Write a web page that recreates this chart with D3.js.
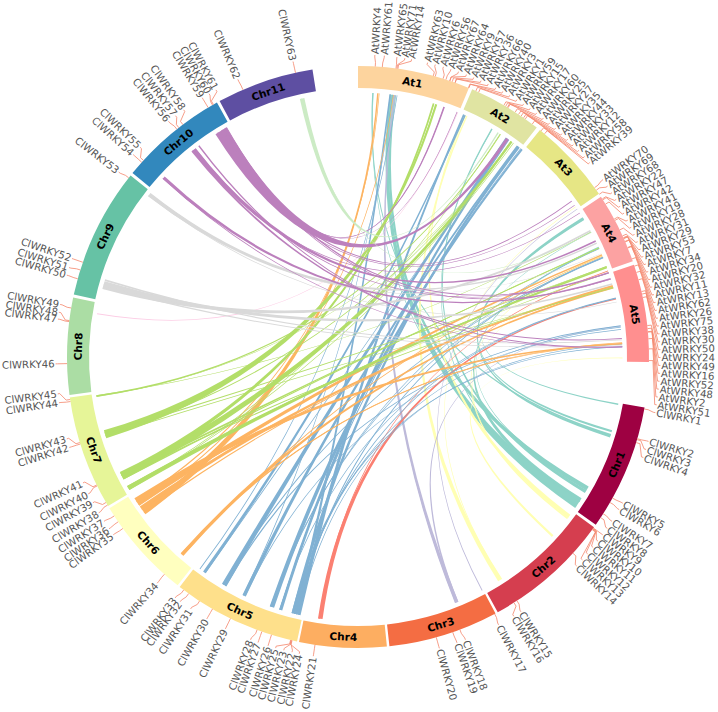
<!DOCTYPE html>
<html><head><meta charset="utf-8">
<script src="https://cdn.jsdelivr.net/npm/d3@7/dist/d3.min.js"></script>
<style>html,body{margin:0;padding:0;background:#fff}svg{display:block}</style>
</head><body><svg id="c" width="718" height="712"></svg>
<script>
// All positions are along the circular genome axis (0-360 units, clockwise from the top).
const sectorNames = ["At1","At2","At3","At4","At5","Chr1","Chr2","Chr3","Chr4","Chr5","Chr6","Chr7","Chr8","Chr9","Chr10","Chr11"];
const sectorStarts = [0,23.1,38.7,56.6,71.5,100,125.8,151.8,174.3,192.1,218.3,239.2,262.5,282.4,309.2,331.6];
const sectorEnds   = [22.4,37.9,55.9,70.8,91,125.2,151.3,173.8,191.7,217.8,238.7,262,281.8,308.6,331,351];
const atColors = ["#fdd49e","#e0e4a2","#e6e685","#fca2a2","#ff8f8f"];
const chrColors = d3.schemeSpectral[11];
const linkColors = d3.schemeSet3;

const atNames = ["AtWRKY4","AtWRKY61","AtWRKY65","AtWRKY71","AtWRKY14","AtWRKY63","AtWRKY10","AtWRKY6","AtWRKY56","AtWRKY67","AtWRKY64","AtWRKY9","AtWRKY57","AtWRKY36","AtWRKY66","AtWRKY40","AtWRKY3","AtWRKY1","AtWRKY59","AtWRKY15","AtWRKY17","AtWRKY60","AtWRKY25","AtWRKY27","AtWRKY35","AtWRKY44","AtWRKY33","AtWRKY12","AtWRKY58","AtWRKY39","AtWRKY70","AtWRKY69","AtWRKY68","AtWRKY22","AtWRKY47","AtWRKY42","AtWRKY41","AtWRKY19","AtWRKY28","AtWRKY31","AtWRKY29","AtWRKY53","AtWRKY7","AtWRKY34","AtWRKY20","AtWRKY32","AtWRKY11","AtWRKY13","AtWRKY62","AtWRKY26","AtWRKY75","AtWRKY38","AtWRKY30","AtWRKY50","AtWRKY24","AtWRKY49","AtWRKY16","AtWRKY52","AtWRKY48","AtWRKY2","AtWRKY51"];
const atGene = [3.4,4.8,7.5,7.7,7.9,15,15.4,17,17.6,18.4,18.4,18.9,19.5,19.5,22.3,22.4,23.9,24.5,30.1,30.5,30.9,31.05,32.7,33.5,34.1,34.7,35.1,36.8,39,39.9,54.4,55,56,57.1,57.3,58.3,61.7,62,64.1,65.4,65.8,65.9,66,66.6,66.7,67.9,68,70.3,71.8,73.1,74.6,77,77.5,78.2,83.8,84.4,85,85.1,86.4,88.4,90.7];
const atLabel = [3.2,5,7.4,8.9,10.2,13.3,14.8,16.4,17.9,19.4,21,22.5,24,25.5,27.1,28.6,30.1,31.7,33.2,34.7,36.2,37.8,39.3,40.8,42.4,43.9,45.4,46.9,48.5,50,54.1,55.6,57.1,58.6,60.1,61.6,63.1,64.6,66.1,67.6,69.1,70.6,72.1,73.6,75.1,76.6,78.1,79.6,81.1,82.6,84.1,85.6,87.1,88.6,90.1,91.6,93.1,94.6,96.1,97.6,99.1];

const clNames = d3.range(1,64).map(i=>"ClWRKY"+i);
const clGene = [100.3,106.3,106.5,107.1,119,120,122.6,123.5,126,126.1,126.2,126.3,126.4,132.4,146.9,147.6,152,159.5,161,164.4,188.5,193.1,193.2,193.3,193.4,197.3,199.3,200.3,206,210,213,215.6,216.8,221.7,233.9,235.5,236.9,239.4,240,243.7,243.9,252.6,252.9,261.2,261.6,268.7,277,277.2,279.7,285.6,287.4,289,308,312,312.5,321.5,322,323,329,330,330.2,336.7,347.6];
const clLabel = [100.6,106.2,107.8,109.4,118.9,120.3,122.9,124.5,126,127.5,129,130.6,132.1,133.7,147.4,149,152.3,159.2,160.9,164.4,188.5,192.6,194.2,191.2,195.8,197.3,199.3,200.8,206,210,213.6,216,217.2,221.6,234,235.4,237.1,239,241.2,243.1,245.4,252.6,254.3,261.3,263,268.7,277.2,278.5,280,285.7,287.2,289,307.7,312,313.9,321.2,322.9,324.8,329,330.5,332,336.6,347.6];

// Links: source position, source width, target position, target width
const linkSource = [100.3,106.3,107.4,107.1,119.8,120.6,122.8,123.8,119.6,124.4,123,
  127,127.6,132.6,147.5,127.3,147.2,
  158.1,157.9,152,158.3,
  188.2,188.4,
  193,193.6,194.2,193.9,194.4,197,197.2,199,199.3,205.5,210.4,215.5,216.7,193.5,193,193.8,197.1,199.1,205.3,210.1,210.6,215.3,205.7,
  221.7,221.9,234.2,235.2,236.3,237.2,221.5,221.8,234,236,237,
  261.5,261.6,253,252.6,243.2,243.7,242.6,240.3,240.6,239.9,243.3,243,252.8,253.3,240.2,261.4,240.5,243.6,
  279.4,
  285.4,286.2,286.9,307.9,307.6,285.4,308.1,
  312.7,321.7,321.2,323,328.8,329,329.8,330,330.2,312.5,321.9,321.4,328,329.2,329.5,
  347.8,347.6];
const linkSrcW = [.3,.5,.6,.4,1,.7,1,2,.25,.3,.3,
  .8,.4,.5,1,.3,.2,
  .8,.4,.2,.2,
  1,.3,
  .9,.6,.7,.3,.3,.7,.2,1,.2,.8,1.1,.7,.2,.3,.2,.3,.3,.2,.2,.3,.3,.2,.2,
  .8,.2,1.4,.8,1.1,1,.3,.3,.3,.3,.3,
  .4,.15,1.8,.2,1.6,1,.4,1,.4,.2,.5,.3,.3,.3,.2,.12,.2,.2,
  .2,
  1,.9,.4,.9,.2,.3,.2,
  .7,.9,.5,.3,2.8,.5,.5,.3,.2,.2,.3,.3,.3,.3,.2,
  1,.2];
const linkTarget = [61.8,58.4,58.6,3.2,8,30.4,65.5,7.3,65.7,30.5,3.3,
  23.9,67.5,90.2,24.3,71,55.4,
  7.9,83.3,56,8.1,
  77.3,71,
  23.6,7,37.4,83.5,87.8,34.6,77.1,38.3,68,37.1,34.2,23.9,8.5,67.8,87.2,77.2,38,65.8,84,83.2,67.9,34.5,7.5,
  74.8,86.9,4.3,74.4,67.3,87.1,67.6,87.1,74.5,7.7,4.6,
  32.6,61.8,17.2,74.9,35.5,16.6,65.6,70.2,70,36,65.7,74.7,35.3,70,32.5,35.4,71.4,16.7,
  22.2,
  61.5,74,86.3,64.5,78,87.5,67,
  72.8,64,86,87.8,34.4,53.9,71.4,19,22,87.8,71.5,57,55,72.9,19,
  32,61.9];
const linkTgtW = [.15,.55,.4,.25,.6,.25,.25,.8,.15,.15,.15,
  .3,.2,.2,.3,.12,.12,
  .25,.15,.12,.12,
  .3,.15,
  .4,.35,.6,.15,.2,.55,.2,.4,.15,.4,.5,.3,.15,.2,.15,.2,.2,.15,.12,.2,.2,.15,.12,
  .35,.15,.3,.35,.3,.25,.15,.15,.15,.15,.15,
  .2,.15,.45,.12,.45,.35,.15,.35,.2,.12,.2,.15,.15,.15,.12,.1,.12,.12,
  .12,
  .4,.35,.15,.3,.12,.12,.1,
  .3,.35,.2,.25,.7,.2,.25,.35,.15,.12,.15,.15,.15,.15,.12,
  .3,.12];

const svg = d3.select("#c");
const cx = 358, cy = 357;
const rOuter = 291, rInner = 269, rLink = 264.5, rStem = 295, rElbow = 300.5, rText = 303.5;
const spread = 0.55;
const angle = d3.scaleLinear().domain([0,360]).range([0,2*Math.PI]);
const root = svg.append("g").attr("transform",`translate(${cx},${cy})`);
const polar = (r,deg)=>{const a=angle(deg)-Math.PI/2;return [r*Math.cos(a),r*Math.sin(a)];};

const sectors = sectorNames.map((n,i)=>({name:n,start:sectorStarts[i],end:sectorEnds[i],
  color:i<5?atColors[i]:chrColors[i-5]}));
const sectorIndexAt = p => sectors.findIndex(s=>p>=s.start-.4 && p<=s.end+.4);

// links: quadratic ribbons bent through the centre, keeping some width in the middle
function linkPath(d){
  const p = d3.path();
  const toA = x => angle(x)-Math.PI/2;
  const s0=polar(rLink,d.s-d.sw/2), s1=polar(rLink,d.s+d.sw/2),
        t0=polar(rLink,d.t-d.tw/2), t1=polar(rLink,d.t+d.tw/2),
        sm=polar(rLink,d.s), tm=polar(rLink,d.t);
  const mid=[(sm[0]+tm[0])/2,(sm[1]+tm[1])/2];
  const ctrl=(a,b)=>[spread*((a[0]+b[0])/2-mid[0]),spread*((a[1]+b[1])/2-mid[1])];
  const c1=ctrl(s1,t0), c2=ctrl(t1,s0);
  p.moveTo(s0[0],s0[1]);
  p.arc(0,0,rLink,toA(d.s-d.sw/2),toA(d.s+d.sw/2));
  p.quadraticCurveTo(c1[0],c1[1],t0[0],t0[1]);
  p.arc(0,0,rLink,toA(d.t-d.tw/2),toA(d.t+d.tw/2));
  p.quadraticCurveTo(c2[0],c2[1],s0[0],s0[1]);
  p.closePath();
  return p.toString();
}
const links = linkSource.map((s,i)=>({s,sw:linkSrcW[i],t:linkTarget[i],tw:linkTgtW[i]}));
root.append("g").selectAll("path").data(links).join("path")
  .attr("d",linkPath)
  .attr("fill",d=>linkColors[sectorIndexAt(d.s)-5]);

// sector ring
const arc = d3.arc().innerRadius(rInner).outerRadius(rOuter);
root.append("g").selectAll("path").data(sectors).join("path")
  .attr("d",d=>arc({startAngle:angle(d.start),endAngle:angle(d.end)}))
  .attr("fill",d=>d.color);

// sector names
root.append("g").selectAll("text").data(sectors).join("text")
  .attr("transform",d=>{
    const m=(d.start+d.end)/2, p=polar((rInner+rOuter)/2,m);
    const rot=(m>90&&m<270)?m-180:m;
    return `translate(${p[0]},${p[1]}) rotate(${rot})`;})
  .attr("text-anchor","middle").attr("dy","0.36em")
  .attr("font-family","'DejaVu Sans',sans-serif").attr("font-weight","bold").attr("font-size",10.5)
  .attr("fill","#000").text(d=>d.name);

// gene labels with connector lines
const labels = atNames.map((n,i)=>({n,g:atGene[i],l:atLabel[i]}))
  .concat(clNames.map((n,i)=>({n,g:clGene[i],l:clLabel[i]})));
const line = d3.line();
root.append("g").selectAll("path").data(labels).join("path")
  .attr("d",d=>line([polar(rOuter,d.g),polar(rStem,d.g),polar(rElbow,d.l),polar(rText-1,d.l)]))
  .attr("fill","none").attr("stroke","#f4856b").attr("stroke-width",0.8);
root.append("g").selectAll("text").data(labels).join("text")
  .attr("transform",d=>{const p=polar(rText,d.l);
    const rot=d.l<180?d.l-90:d.l+90;
    return `translate(${p[0]},${p[1]}) rotate(${rot})`;})
  .attr("text-anchor",d=>d.l<180?"start":"end").attr("dy","0.35em")
  .attr("font-family","'DejaVu Sans',sans-serif").attr("font-size",10.2)
  .attr("fill","#555").text(d=>d.n);
</script></body></html>
